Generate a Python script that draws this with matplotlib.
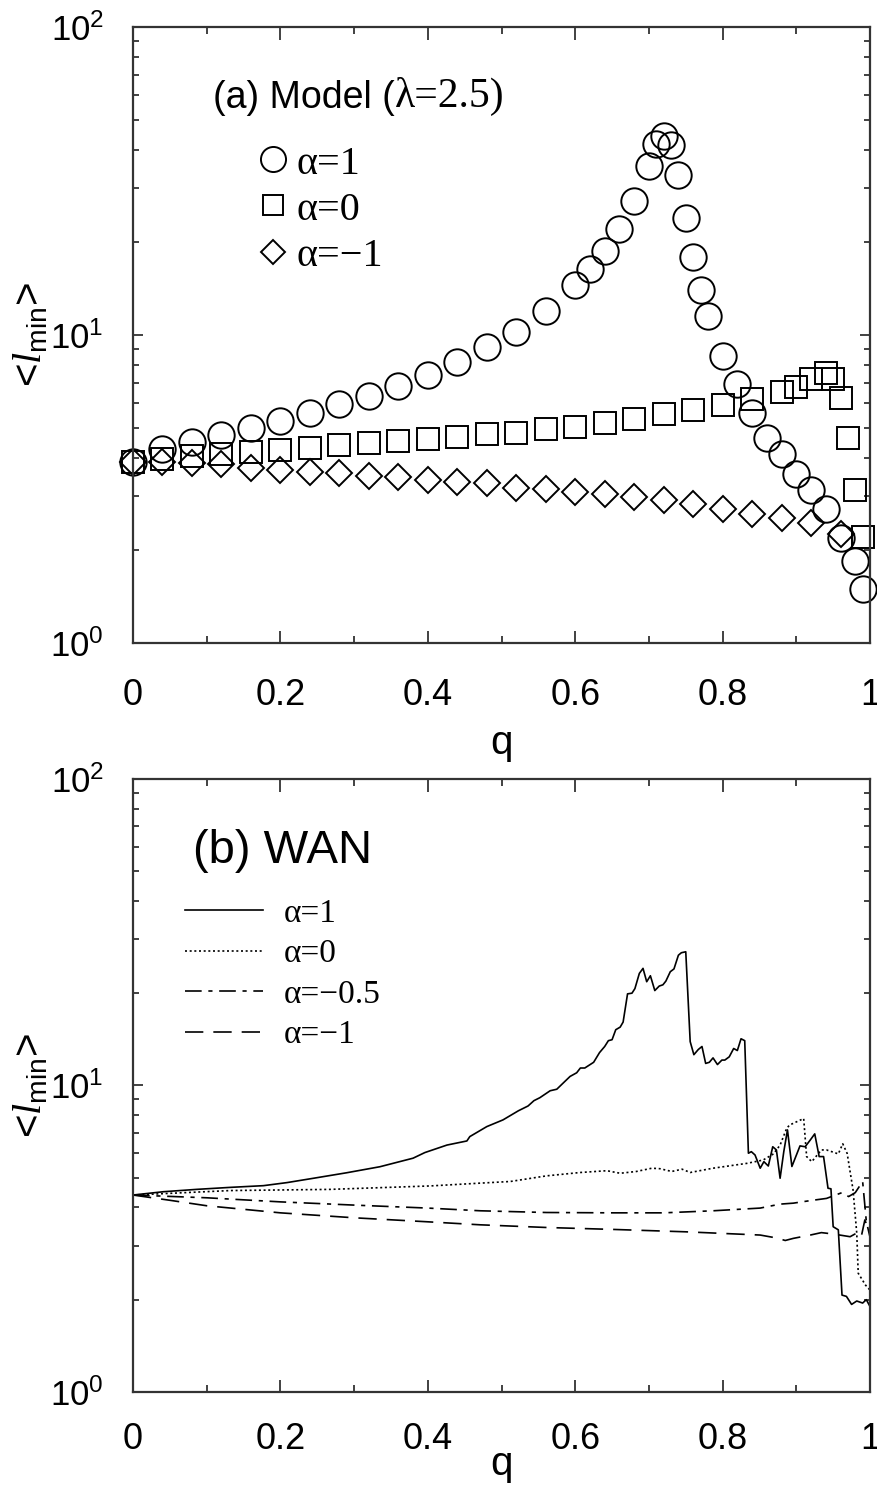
import numpy as np
import matplotlib
matplotlib.use('Agg')
import matplotlib.pyplot as plt
from matplotlib.ticker import FixedLocator, FuncFormatter, MultipleLocator, LogLocator, NullFormatter

plt.rcParams['font.family'] = ['Liberation Sans Narrow', 'Liberation Sans', 'DejaVu Sans']
plt.rcParams['mathtext.fontset'] = 'custom'
plt.rcParams['mathtext.rm'] = 'Liberation Sans'
plt.rcParams['mathtext.it'] = 'Liberation Serif:italic'
plt.rcParams['mathtext.default'] = 'regular'

# ---- (a) model, lambda = 2.5 ----
q_a_pos = [0, 0.04, 0.08, 0.12, 0.16, 0.20, 0.24, 0.28, 0.32, 0.36, 0.40, 0.44, 0.48,
           0.52, 0.56, 0.60, 0.62, 0.64, 0.66, 0.68, 0.70, 0.71, 0.72, 0.73, 0.74,
           0.75, 0.76, 0.77, 0.78, 0.80, 0.82, 0.84, 0.86, 0.88, 0.90, 0.92, 0.94,
           0.96, 0.98, 0.99]
l_a_pos = [3.86, 4.25, 4.50, 4.72, 4.98, 5.27, 5.58, 5.96, 6.35, 6.84, 7.43, 8.17, 9.12,
           10.2, 12.0, 14.5, 16.4, 18.8, 22.1, 27.2, 35.4, 41.6, 44.3, 41.5, 33.2,
           23.9, 17.9, 14.0, 11.5, 8.54, 6.94, 5.59, 4.63, 4.10, 3.54, 3.14, 2.73,
           2.19, 1.84, 1.50]

q_a_zero = [0, 0.04, 0.08, 0.12, 0.16, 0.20, 0.24, 0.28, 0.32, 0.36, 0.40, 0.44, 0.48,
            0.52, 0.56, 0.60, 0.64, 0.68, 0.72, 0.76, 0.80, 0.84, 0.88, 0.90, 0.92,
            0.94, 0.95, 0.96, 0.97, 0.98, 0.99]
l_a_zero = [3.86, 3.96, 4.05, 4.11, 4.16, 4.23, 4.31, 4.38, 4.45, 4.53, 4.59, 4.68, 4.77,
            4.80, 4.94, 5.04, 5.17, 5.33, 5.53, 5.73, 5.93, 6.20, 6.51, 6.77, 7.22,
            7.50, 7.20, 6.25, 4.62, 3.14, 2.21]

q_a_neg = [0, 0.04, 0.08, 0.12, 0.16, 0.20, 0.24, 0.28, 0.32, 0.36, 0.40, 0.44, 0.48,
           0.52, 0.56, 0.60, 0.64, 0.68, 0.72, 0.76, 0.80, 0.84, 0.88, 0.92, 0.96]
l_a_neg = [3.86, 3.88, 3.83, 3.80, 3.71, 3.65, 3.60, 3.56, 3.48, 3.46, 3.38, 3.34, 3.30,
           3.19, 3.17, 3.10, 3.04, 2.98, 2.91, 2.82, 2.73, 2.63, 2.55, 2.45, 2.26]

# ---- (b) WAN ----
q_b1 = [0, 0.041, 0.086, 0.132, 0.177, 0.209, 0.245, 0.290, 0.335, 0.380, 0.396, 0.426,
        0.453, 0.457, 0.480, 0.502, 0.523, 0.536, 0.544, 0.552, 0.566, 0.575, 0.584,
        0.593, 0.602, 0.607, 0.613, 0.625, 0.633, 0.640, 0.645, 0.650, 0.655, 0.661,
        0.665, 0.671, 0.677, 0.681, 0.687, 0.692, 0.697, 0.702, 0.708, 0.714, 0.719,
        0.723, 0.729, 0.734, 0.740, 0.744, 0.750, 0.756, 0.761, 0.767, 0.772, 0.777,
        0.782, 0.787, 0.793, 0.799, 0.803, 0.809, 0.815, 0.820, 0.825, 0.830, 0.835,
        0.839, 0.844, 0.851, 0.856, 0.862, 0.868, 0.873, 0.878, 0.883, 0.888, 0.894,
        0.905, 0.912, 0.919, 0.925, 0.931, 0.937, 0.943, 0.947, 0.950, 0.957, 0.962,
        0.968, 0.975, 0.982, 0.990, 0.995, 1.0]
l_b1 = [4.39, 4.50, 4.58, 4.65, 4.71, 4.82, 4.98, 5.19, 5.43, 5.79, 6.04, 6.39,
        6.59, 6.81, 7.34, 7.72, 8.27, 8.57, 8.92, 9.12, 9.61, 9.72, 10.2,
        10.7, 11.0, 11.4, 11.4, 11.9, 12.8, 13.4, 14.0, 14.1, 15.2, 15.5,
        16.1, 19.9, 20.0, 20.7, 23.2, 24.1, 21.8, 22.8, 20.4, 21.1, 21.3,
        21.9, 23.5, 24.0, 26.6, 27.1, 27.3, 13.9, 12.6, 13.1, 13.4, 11.8,
        11.9, 12.3, 11.7, 12.1, 12.1, 12.4, 13.2, 13.0, 14.2, 14.0, 6.01,
        6.08, 5.93, 5.37, 5.64, 5.46, 6.31, 6.16, 4.98, 6.08, 7.16, 5.44,
        6.35, 6.31, 6.64, 6.95, 5.86, 5.86, 4.62, 4.60, 3.46, 3.38, 2.07,
        2.05, 1.93, 1.98, 1.95, 2.00, 1.90]

q_b0 = [0, 0.132, 0.267, 0.403, 0.471, 0.512, 0.561, 0.607, 0.643, 0.661, 0.683, 0.704,
        0.715, 0.731, 0.745, 0.756, 0.787, 0.833, 0.855, 0.869, 0.878, 0.887, 0.891,
        0.910, 0.914, 0.921, 0.934, 0.941, 0.957, 0.963, 0.969, 0.977, 0.982, 0.984,
        0.994, 1.0]
l_b0 = [4.39, 4.54, 4.58, 4.70, 4.80, 4.86, 5.07, 5.20, 5.27, 5.17, 5.24, 5.37,
        5.35, 5.24, 5.33, 5.20, 5.37, 5.57, 5.71, 5.98, 6.39, 7.25, 7.43,
        7.80, 5.86, 5.64, 6.16, 6.16, 5.98, 6.45, 6.00, 4.56, 3.30, 2.44,
        2.23, 2.15]

q_bh = [0, 0.1, 0.2, 0.3, 0.4, 0.471, 0.561, 0.652, 0.72, 0.787, 0.851, 0.878, 0.896,
        0.919, 0.941, 0.962, 0.971, 0.980, 0.990, 0.995, 1.0]
l_bh = [4.39, 4.30, 4.17, 4.07, 3.98, 3.90, 3.85, 3.84, 3.84, 3.90, 3.98, 4.10, 4.13,
        4.21, 4.28, 4.47, 4.34, 4.47, 4.86, 3.60, 3.20]

q_bm = [0, 0.05, 0.1, 0.2, 0.3, 0.4, 0.471, 0.561, 0.652, 0.75, 0.851, 0.873, 0.885,
        0.896, 0.919, 0.934, 0.948, 0.959, 0.973, 0.982, 0.988, 0.993, 1.0]
l_bm = [4.39, 4.22, 4.05, 3.84, 3.70, 3.59, 3.51, 3.44, 3.39, 3.33, 3.25, 3.18, 3.12,
        3.17, 3.25, 3.31, 3.28, 3.25, 3.21, 3.30, 3.20, 3.64, 3.30]

edge = '#333333'


def dec_label(v, pos):
    return r'$10^{%d}$' % int(round(np.log10(v)))


def style_axes(ax, tickpad, xpad):
    ax.set_yscale('log')
    ax.set_xlim(0, 1)
    ax.set_ylim(1, 100)
    for s in ax.spines.values():
        s.set_color(edge)
        s.set_linewidth(1.6)
    ax.xaxis.set_major_locator(MultipleLocator(0.2))
    ax.xaxis.set_minor_locator(MultipleLocator(0.1))
    ax.xaxis.set_major_formatter(FuncFormatter(lambda v, p: '%g' % v))
    ax.yaxis.set_major_locator(FixedLocator([1, 10, 100]))
    ax.yaxis.set_minor_locator(LogLocator(base=10, subs=np.arange(2, 10)))
    ax.yaxis.set_major_formatter(FuncFormatter(dec_label))
    ax.yaxis.set_minor_formatter(NullFormatter())
    ax.tick_params(which='both', direction='in', top=True, right=True, color=edge, width=1.3)
    ax.tick_params(axis='x', which='major', length=9, labelsize=26, pad=tickpad)
    ax.tick_params(axis='x', which='minor', length=5)
    ax.tick_params(axis='y', which='major', length=7, labelsize=25, pad=21)
    ax.tick_params(axis='y', which='minor', length=4)
    ax.set_xlabel('q', fontsize=29, labelpad=xpad)
    ax.set_ylabel(r'<$\mathit{l}_{\rm min}$>', fontsize=29, labelpad=0)


fig = plt.figure(figsize=(8.78, 14.86), dpi=100)
ax1 = fig.add_axes([0.1515, 0.5673, 0.8394, 0.4145])
ax2 = fig.add_axes([0.1515, 0.0633, 0.8394, 0.4125])

# panel (a): open markers, not clipped at the frame
mk = dict(linestyle='none', markerfacecolor='none', markeredgecolor='black',
          markeredgewidth=1.4, clip_on=False)
h1, = ax1.plot(q_a_pos, l_a_pos, marker='o', markersize=19, **mk)
h2, = ax1.plot(q_a_zero, l_a_zero, marker='s', markersize=15.5, **mk)
h3, = ax1.plot(q_a_neg, l_a_neg, marker='D', markersize=13, **mk)
style_axes(ax1, 25, 8)

t = ax1.text(0.1085, 0.8685, '(a) Model (', transform=ax1.transAxes, fontsize=27,
             family='Liberation Sans', va='baseline', ha='left')
ax1.annotate('λ=2.5)', xy=(1, 0), xycoords=t, va='bottom', ha='left', fontsize=30,
             family='Liberation Serif')
ax1.legend([h1, h2, h3], ['α=1', 'α=0', 'α=−1'], loc='upper left',
           bbox_to_anchor=(0.175, 0.808), frameon=False, numpoints=1,
           handlelength=0.55, handletextpad=0.3, labelspacing=0.22, borderpad=0,
           borderaxespad=0, markerscale=0.95,
           prop={'family': 'Liberation Serif', 'size': 29})

# panel (b): WAN
lw = 1.2
g1, = ax2.plot(q_b1, l_b1, color='black', lw=lw, linestyle='-')
g2, = ax2.plot(q_b0, l_b0, color='black', lw=lw, linestyle=(0, (1.2, 1.6)))
g3, = ax2.plot(q_bh, l_bh, color='black', lw=lw, linestyle=(0, (10, 4, 2.5, 4)))
g4, = ax2.plot(q_bm, l_bm, color='black', lw=lw, linestyle=(0, (11, 6)))
style_axes(ax2, 22, -9)

ax2.text(0.0814, 0.863, '(b) WAN', transform=ax2.transAxes, fontsize=34,
         family='Liberation Sans', va='baseline', ha='left')
ax2.legend([g1, g2, g3, g4], ['α=1', 'α=0', 'α=−0.5', 'α=−1'], loc='upper left',
           bbox_to_anchor=(0.0706, 0.805), frameon=False,
           handlelength=2.35, handletextpad=0.6, labelspacing=0.3, borderpad=0,
           borderaxespad=0, prop={'family': 'Liberation Serif', 'size': 24})

fig.savefig('out.png', dpi=100)
